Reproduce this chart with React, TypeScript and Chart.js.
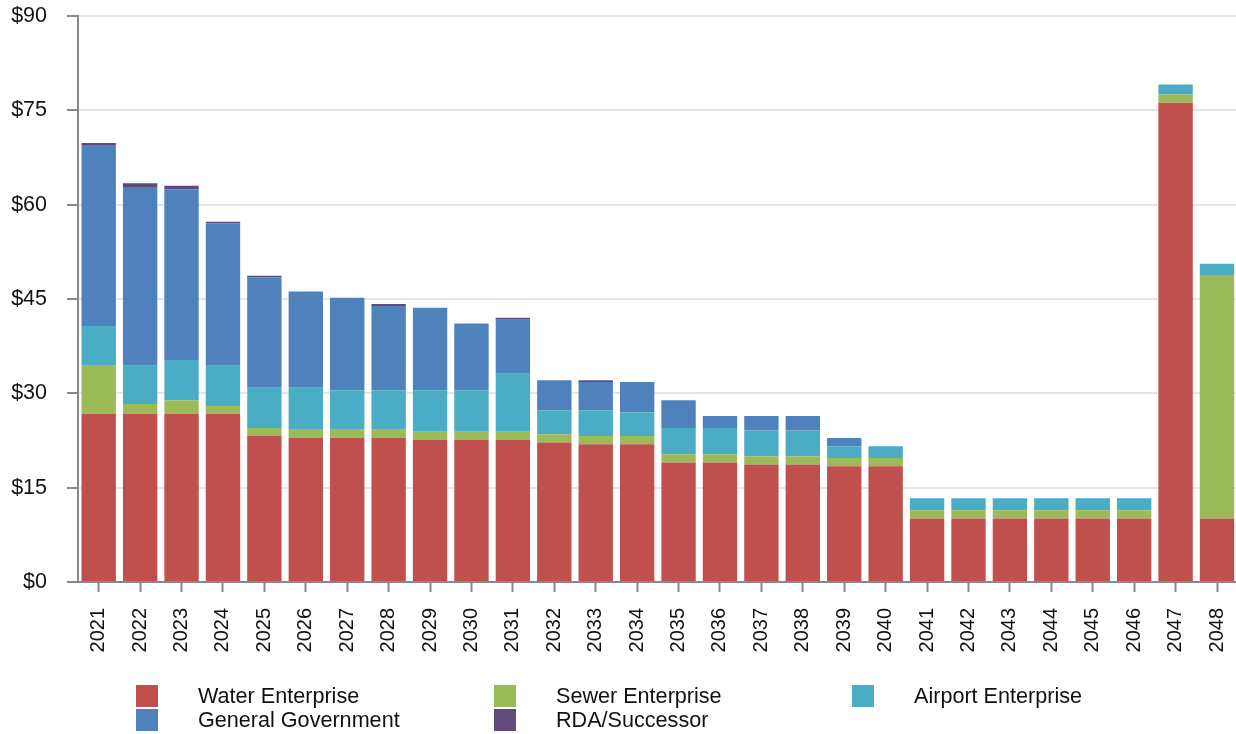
import React, { useEffect, useRef } from "react";
import { Chart, registerables } from "chart.js";

Chart.register(...registerables);

const years = [
  "2021", "2022", "2023", "2024", "2025", "2026", "2027", "2028", "2029", "2030",
  "2031", "2032", "2033", "2034", "2035", "2036", "2037", "2038", "2039", "2040",
  "2041", "2042", "2043", "2044", "2045", "2046", "2047", "2048",
];

const water = [
  26.7, 26.7, 26.7, 26.7, 23.2, 22.9, 22.9, 22.9, 22.6, 22.6,
  22.6, 22.2, 21.9, 21.9, 19.0, 19.0, 18.7, 18.7, 18.4, 18.4,
  10.1, 10.1, 10.1, 10.1, 10.1, 10.1, 76.2, 10.1,
];
const sewer = [
  7.7, 1.6, 2.2, 1.3, 1.3, 1.3, 1.3, 1.3, 1.3, 1.3,
  1.3, 1.3, 1.3, 1.3, 1.3, 1.3, 1.3, 1.3, 1.3, 1.3,
  1.3, 1.3, 1.3, 1.3, 1.3, 1.3, 1.3, 38.7,
];
const airport = [
  6.3, 6.1, 6.4, 6.4, 6.4, 6.7, 6.3, 6.3, 6.6, 6.6,
  9.2, 3.8, 4.1, 3.8, 4.2, 4.2, 4.1, 4.1, 1.9, 1.9,
  1.9, 1.9, 1.9, 1.9, 1.9, 1.9, 1.6, 1.8,
];
const generalGov = [
  28.8, 28.4, 27.1, 22.6, 17.5, 15.3, 14.7, 13.4, 13.1, 10.6,
  8.6, 4.8, 4.5, 4.8, 4.4, 1.9, 2.3, 2.3, 1.3, 0,
  0, 0, 0, 0, 0, 0, 0, 0,
];
const rda = [
  0.3, 0.6, 0.6, 0.3, 0.3, 0, 0, 0.3, 0, 0,
  0.3, 0, 0.3, 0, 0, 0, 0, 0, 0, 0,
  0, 0, 0, 0, 0, 0, 0, 0,
];

const yTicks = [0, 15, 30, 45, 60, 75, 90];

const seriesNames = ["Water Enterprise", "Sewer Enterprise", "Airport Enterprise", "General Government", "RDA/Successor"];
const seriesColors = ["#C0504D", "#9BBB59", "#4BACC6", "#4F81BD", "#604A7B"];

const FONT = "'Liberation Sans', Arial, Helvetica, sans-serif";

const legendLayout = [
  { idx: 0, col: 0, row: 0 },
  { idx: 1, col: 1, row: 0 },
  { idx: 2, col: 2, row: 0 },
  { idx: 3, col: 0, row: 1 },
  { idx: 4, col: 1, row: 1 },
];

export default function App() {
  const canvasRef = useRef<HTMLCanvasElement | null>(null);

  useEffect(() => {
    if (!canvasRef.current) return;
    const values = [water, sewer, airport, generalGov, rda];
    const chart = new Chart(canvasRef.current, {
      type: "bar",
      data: {
        labels: years,
        datasets: values.map((d, i) => ({
          label: seriesNames[i],
          data: d,
          backgroundColor: seriesColors[i],
          borderWidth: 0,
          barPercentage: 0.83,
          categoryPercentage: 1.0,
        })),
      },
      options: {
        animation: false,
        responsive: true,
        maintainAspectRatio: false,
        layout: { padding: { top: 16, right: 0, left: 0, bottom: 0 } },
        plugins: {
          legend: { display: false },
          tooltip: { enabled: false },
        },
        scales: {
          x: {
            stacked: true,
            afterFit: (s: any) => {
              s.height = 152;
              s.paddingTop = 0;
              s.paddingBottom = 0;
            },
            grid: {
              drawOnChartArea: false,
              offset: false,
              drawTicks: true,
              tickLength: 10,
              tickWidth: 2,
              tickColor: "#888888",
            },
            border: { color: "#888888", width: 2 },
            ticks: {
              autoSkip: false,
              minRotation: 90,
              maxRotation: 90,
              padding: 16,
              color: "#111111",
              font: { family: FONT, size: 20 },
            },
          },
          y: {
            stacked: true,
            min: 0,
            max: 90,
            afterFit: (s: any) => {
              s.width = 78;
              s.paddingTop = 0;
              s.paddingBottom = 0;
            },
            afterBuildTicks: (s: any) => {
              s.ticks = yTicks.map((v) => ({ value: v }));
            },
            grid: {
              color: "#e6e6e6",
              lineWidth: 2,
              tickLength: 11,
              tickWidth: 2,
              tickColor: "#888888",
            },
            border: { color: "#888888", width: 2 },
            ticks: {
              padding: 20,
              color: "#111111",
              font: { family: FONT, size: 21.5 },
              callback: (v: any) => "$" + v,
            },
          },
        },
      },
    });
    return () => chart.destroy();
  }, []);

  return (
    <div style={{ position: "absolute", left: 0, top: 0, width: 1236, height: 734, background: "#fff", overflow: "hidden" }}>
      <div style={{ position: "absolute", left: 0, top: 0, width: 1257, height: 734 }}>
        <canvas ref={canvasRef} />
      </div>
      {legendLayout.map((l) => (
        <div key={l.idx}>
          <div
            style={{
              position: "absolute",
              left: 136 + l.col * 358,
              top: 685 + l.row * 24,
              width: 22,
              height: 22,
              background: seriesColors[l.idx],
            }}
          />
          <div
            style={{
              position: "absolute",
              left: 198 + l.col * 358,
              top: 685 + l.row * 24,
              height: 22,
              lineHeight: "22px",
              fontFamily: FONT,
              fontSize: 21.6,
              color: "#111",
              whiteSpace: "nowrap",
            }}
          >
            {seriesNames[l.idx]}
          </div>
        </div>
      ))}
    </div>
  );
}
